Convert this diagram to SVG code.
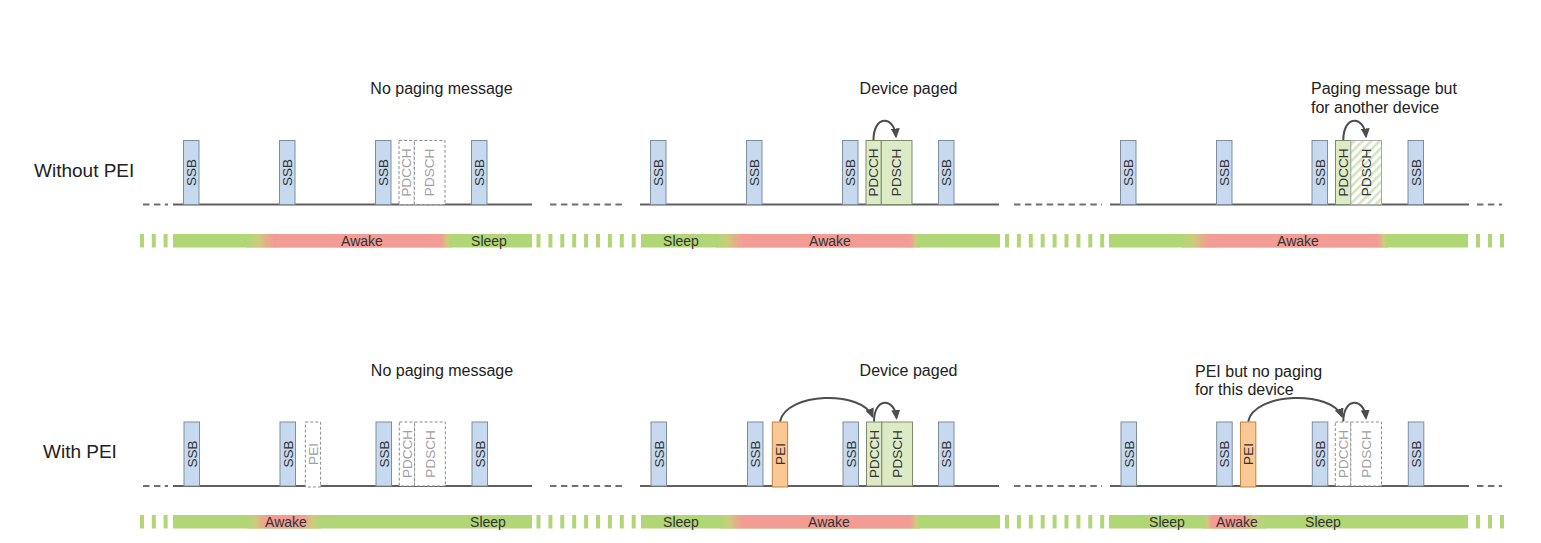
<svg xmlns="http://www.w3.org/2000/svg" width="1541" height="543" viewBox="0 0 1541 543">
<style>
text{font-family:"Liberation Sans",Arial,sans-serif}
.bg{fill:#fff}
.rowlbl{font-size:19px;fill:#222}
.title{font-size:16px;fill:#222}
.barlbl{font-size:14px;fill:#333;text-anchor:middle}
.base{stroke:#5f5f5f;stroke-width:2;fill:none}
.dash{stroke:#707070;stroke-width:2;fill:none;stroke-dasharray:6.5 4.4}
.ssb{fill:#c6d9ef;stroke:#7f8c9b;stroke-width:1}
.grn{fill:#dcebc6;stroke:#7c8c6a;stroke-width:1}
.pei{fill:#f9c895;stroke:#c4843e;stroke-width:1}
.dsh{fill:#fff;stroke:#8c8c8c;stroke-width:1;stroke-dasharray:3 2}
.hat{fill:url(#hatch);stroke:#a8a8a8;stroke-width:1}
.lbl{font-size:13.5px;fill:#333;text-anchor:middle}
.lblg{font-size:13.5px;fill:#a0a0a0;text-anchor:middle}
.g{fill:#b0d676}
.r{fill:#f29c95}
.g2r{fill:url(#g2r)}
.r2g{fill:url(#r2g)}
.arr{stroke:#4d4d4d;stroke-width:2;fill:none;marker-end:url(#ah)}
</style>
<defs>
<linearGradient id="g2r" x1="0" y1="0" x2="1" y2="0">
<stop offset="0" stop-color="#b0d676"/>
<stop offset="0.4" stop-color="#cacd7d"/>
<stop offset="0.7" stop-color="#e6ae88"/>
<stop offset="1" stop-color="#f29c95"/>
</linearGradient>
<linearGradient id="r2g" x1="0" y1="0" x2="1" y2="0">
<stop offset="0" stop-color="#f29c95"/>
<stop offset="0.3" stop-color="#e6ae88"/>
<stop offset="0.6" stop-color="#cacd7d"/>
<stop offset="1" stop-color="#b0d676"/>
</linearGradient>
<pattern id="hatch" patternUnits="userSpaceOnUse" width="6" height="6" patternTransform="rotate(45)">
<rect width="6" height="6" fill="#fff"/>
<rect width="2.6" height="6" fill="#d3e5bb"/>
</pattern>
<marker id="ah" markerUnits="userSpaceOnUse" markerWidth="10" markerHeight="9" viewBox="0 0 10 9" refX="8" refY="4.5" orient="auto">
<path d="M0,0 L10,4.5 L0,9 z" fill="#4d4d4d"/>
</marker>
</defs>
<rect class="bg" width="1541" height="543"/>

<g id="row-labels">
<text class="rowlbl" x="34" y="177">Without PEI</text>
<text class="rowlbl" x="43" y="458">With PEI</text>
</g>

<g id="titles">
<text class="title" x="441.5" y="94" text-anchor="middle">No paging message</text>
<text class="title" x="908.5" y="94" text-anchor="middle">Device paged</text>
<text class="title" x="1311" y="93.5">Paging message but</text>
<text class="title" x="1311" y="113">for another device</text>
<text class="title" x="442" y="376" text-anchor="middle">No paging message</text>
<text class="title" x="908.5" y="376" text-anchor="middle">Device paged</text>
<text class="title" x="1195" y="376.5">PEI but no paging</text>
<text class="title" x="1195" y="395">for this device</text>
</g>

<g id="timelines">
<path class="base" d="M173,204.5H532M640,204.5H999M1110,204.5H1469"/>
<path class="dash" d="M143,204.5H168M550,204.5H622M1014,204.5H1102M1477,204.5H1502"/>
<path class="base" d="M173,486H532M640,486H999M1110,486H1469"/>
<path class="dash" d="M143,486H168M550,486H622M1014,486H1102M1477,486H1502"/>
</g>

<g id="bars-top">
<rect class="g" x="173" y="234" width="359" height="13.5"/>
<rect class="g2r" x="247" y="234" width="28" height="13.5"/>
<rect class="r" x="274.5" y="234" width="166" height="13.5"/>
<rect class="r2g" x="440" y="234" width="12" height="13.5"/>
<rect class="g" x="641" y="234" width="359" height="13.5"/>
<rect class="g2r" x="716" y="234" width="28" height="13.5"/>
<rect class="r" x="743.5" y="234" width="167" height="13.5"/>
<rect class="r2g" x="910" y="234" width="10" height="13.5"/>
<rect class="g" x="1109" y="234" width="359" height="13.5"/>
<rect class="g2r" x="1182" y="234" width="28" height="13.5"/>
<rect class="r" x="1209.5" y="234" width="168" height="13.5"/>
<rect class="r2g" x="1377" y="234" width="11" height="13.5"/>
<text class="barlbl" x="362" y="245.5">Awake</text>
<text class="barlbl" x="489" y="245.5">Sleep</text>
<text class="barlbl" x="681" y="245.5">Sleep</text>
<text class="barlbl" x="830" y="245.5">Awake</text>
<text class="barlbl" x="1298" y="245.5">Awake</text>
</g>

<g id="bars-bottom">
<rect class="g" x="173" y="515" width="359" height="13.5"/>
<rect class="g2r" x="247" y="515" width="21" height="13.5"/>
<rect class="r" x="267.5" y="515" width="33" height="13.5"/>
<rect class="r2g" x="300" y="515" width="21" height="13.5"/>
<rect class="g" x="641" y="515" width="359" height="13.5"/>
<rect class="g2r" x="720" y="515" width="23" height="13.5"/>
<rect class="r" x="742.5" y="515" width="168" height="13.5"/>
<rect class="r2g" x="910" y="515" width="10" height="13.5"/>
<rect class="g" x="1109" y="515" width="359" height="13.5"/>
<rect class="g2r" x="1203" y="515" width="10" height="13.5"/>
<rect class="r" x="1212.5" y="515" width="28" height="13.5"/>
<rect class="r2g" x="1240" y="515" width="26" height="13.5"/>
<text class="barlbl" x="286" y="526.5">Awake</text>
<text class="barlbl" x="488" y="526.5">Sleep</text>
<text class="barlbl" x="681" y="526.5">Sleep</text>
<text class="barlbl" x="829" y="526.5">Awake</text>
<text class="barlbl" x="1167" y="526.5">Sleep</text>
<text class="barlbl" x="1237" y="526.5">Awake</text>
<text class="barlbl" x="1323" y="526.5">Sleep</text>
</g>

<g id="bar-stripes" fill="#b0d676">
<path d="M140,234h4v13.5h-4zM151.8,234h4v13.5h-4zM163.6,234h4v13.5h-4z
M536.5,234h4v13.5h-4zM548.4,234h4v13.5h-4zM560.3,234h4v13.5h-4zM572.2,234h4v13.5h-4zM584.1,234h4v13.5h-4zM596,234h4v13.5h-4zM607.9,234h4v13.5h-4zM619.8,234h4v13.5h-4zM631.7,234h4v13.5h-4z
M1005,234h4v13.5h-4zM1016.9,234h4v13.5h-4zM1028.8,234h4v13.5h-4zM1040.7,234h4v13.5h-4zM1052.6,234h4v13.5h-4zM1064.5,234h4v13.5h-4zM1076.4,234h4v13.5h-4zM1088.3,234h4v13.5h-4zM1100.2,234h4v13.5h-4z
M1476,234h4v13.5h-4zM1488,234h4v13.5h-4zM1500,234h4v13.5h-4z"/>
<path d="M140,515h4v13.5h-4zM151.8,515h4v13.5h-4zM163.6,515h4v13.5h-4z
M536.5,515h4v13.5h-4zM548.4,515h4v13.5h-4zM560.3,515h4v13.5h-4zM572.2,515h4v13.5h-4zM584.1,515h4v13.5h-4zM596,515h4v13.5h-4zM607.9,515h4v13.5h-4zM619.8,515h4v13.5h-4zM631.7,515h4v13.5h-4z
M1005,515h4v13.5h-4zM1016.9,515h4v13.5h-4zM1028.8,515h4v13.5h-4zM1040.7,515h4v13.5h-4zM1052.6,515h4v13.5h-4zM1064.5,515h4v13.5h-4zM1076.4,515h4v13.5h-4zM1088.3,515h4v13.5h-4zM1100.2,515h4v13.5h-4z
M1476,515h4v13.5h-4zM1488,515h4v13.5h-4zM1500,515h4v13.5h-4z"/>
</g>

<!-- Top row, panel 1 -->
<g id="t1-ssb1"><rect class="ssb" x="183.5" y="140.5" width="15.5" height="64"/><text class="lbl" transform="translate(191.25,172.5) rotate(-90)" dy="4.8">SSB</text></g>
<g id="t1-ssb2"><rect class="ssb" x="279.5" y="140.5" width="15.5" height="64"/><text class="lbl" transform="translate(287.25,172.5) rotate(-90)" dy="4.8">SSB</text></g>
<g id="t1-ssb3"><rect class="ssb" x="375.5" y="140.5" width="15.5" height="64"/><text class="lbl" transform="translate(383.25,172.5) rotate(-90)" dy="4.8">SSB</text></g>
<g id="t1-pdcch"><rect class="dsh" x="399" y="140.5" width="15.3" height="64"/><text class="lblg" transform="translate(406.65,172.5) rotate(-90)" dy="4.8">PDCCH</text></g>
<g id="t1-pdsch"><rect class="dsh" x="414.3" y="140.5" width="30.7" height="64"/><text class="lblg" transform="translate(429.65,172.5) rotate(-90)" dy="4.8">PDSCH</text></g>
<g id="t1-ssb4"><rect class="ssb" x="471.5" y="140.5" width="15.5" height="64"/><text class="lbl" transform="translate(479.25,172.5) rotate(-90)" dy="4.8">SSB</text></g>

<!-- Top row, panel 2 -->
<g id="t2-ssb1"><rect class="ssb" x="650.5" y="140.5" width="15.5" height="64"/><text class="lbl" transform="translate(658.25,172.5) rotate(-90)" dy="4.8">SSB</text></g>
<g id="t2-ssb2"><rect class="ssb" x="746.5" y="140.5" width="15.5" height="64"/><text class="lbl" transform="translate(754.25,172.5) rotate(-90)" dy="4.8">SSB</text></g>
<g id="t2-ssb3"><rect class="ssb" x="842.5" y="140.5" width="15.5" height="64"/><text class="lbl" transform="translate(850.25,172.5) rotate(-90)" dy="4.8">SSB</text></g>
<g id="t2-pdcch"><rect class="grn" x="866" y="140.5" width="15.3" height="64"/><text class="lbl" transform="translate(873.65,172.5) rotate(-90)" dy="4.8">PDCCH</text></g>
<g id="t2-pdsch"><rect class="grn" x="881.3" y="140.5" width="30.7" height="64"/><text class="lbl" transform="translate(896.65,172.5) rotate(-90)" dy="4.8">PDSCH</text></g>
<g id="t2-ssb4"><rect class="ssb" x="938.5" y="140.5" width="15.5" height="64"/><text class="lbl" transform="translate(946.25,172.5) rotate(-90)" dy="4.8">SSB</text></g>

<!-- Top row, panel 3 -->
<g id="t3-ssb1"><rect class="ssb" x="1120.5" y="140.5" width="15.5" height="64"/><text class="lbl" transform="translate(1128.25,172.5) rotate(-90)" dy="4.8">SSB</text></g>
<g id="t3-ssb2"><rect class="ssb" x="1216.5" y="140.5" width="15.5" height="64"/><text class="lbl" transform="translate(1224.25,172.5) rotate(-90)" dy="4.8">SSB</text></g>
<g id="t3-ssb3"><rect class="ssb" x="1312" y="140.5" width="15.5" height="64"/><text class="lbl" transform="translate(1319.75,172.5) rotate(-90)" dy="4.8">SSB</text></g>
<g id="t3-pdcch"><rect class="grn" x="1335.5" y="140.5" width="15.3" height="64"/><text class="lbl" transform="translate(1343.15,172.5) rotate(-90)" dy="4.8">PDCCH</text></g>
<g id="t3-pdsch"><rect class="hat" x="1350.8" y="140.5" width="30.7" height="64"/><text class="lbl" transform="translate(1366.15,172.5) rotate(-90)" dy="4.8">PDSCH</text></g>
<g id="t3-ssb4"><rect class="ssb" x="1408" y="140.5" width="15.5" height="64"/><text class="lbl" transform="translate(1415.75,172.5) rotate(-90)" dy="4.8">SSB</text></g>

<!-- Bottom row, panel 1 -->
<g id="b1-ssb1"><rect class="ssb" x="184" y="422" width="15.5" height="64"/><text class="lbl" transform="translate(191.75,454) rotate(-90)" dy="4.8">SSB</text></g>
<g id="b1-ssb2"><rect class="ssb" x="280" y="422" width="15.5" height="64"/><text class="lbl" transform="translate(287.75,454) rotate(-90)" dy="4.8">SSB</text></g>
<g id="b1-pei"><rect class="dsh" x="305.3" y="422" width="15.3" height="65"/><text class="lblg" transform="translate(312.95,454) rotate(-90)" dy="4.8">PEI</text></g>
<g id="b1-ssb3"><rect class="ssb" x="376" y="422" width="15.5" height="64"/><text class="lbl" transform="translate(383.75,454) rotate(-90)" dy="4.8">SSB</text></g>
<g id="b1-pdcch"><rect class="dsh" x="399.3" y="422" width="15.3" height="64"/><text class="lblg" transform="translate(406.95,454) rotate(-90)" dy="4.8">PDCCH</text></g>
<g id="b1-pdsch"><rect class="dsh" x="414.6" y="422" width="30.7" height="64"/><text class="lblg" transform="translate(429.95,454) rotate(-90)" dy="4.8">PDSCH</text></g>
<g id="b1-ssb4"><rect class="ssb" x="472" y="422" width="15.5" height="64"/><text class="lbl" transform="translate(479.75,454) rotate(-90)" dy="4.8">SSB</text></g>

<!-- Bottom row, panel 2 -->
<g id="b2-ssb1"><rect class="ssb" x="651" y="422" width="15.5" height="64"/><text class="lbl" transform="translate(658.75,454) rotate(-90)" dy="4.8">SSB</text></g>
<g id="b2-ssb2"><rect class="ssb" x="747.5" y="422" width="15.5" height="64"/><text class="lbl" transform="translate(755.25,454) rotate(-90)" dy="4.8">SSB</text></g>
<g id="b2-pei"><rect class="pei" x="772.3" y="422" width="15.3" height="65"/><text class="lbl" transform="translate(779.95,454) rotate(-90)" dy="4.8">PEI</text></g>
<g id="b2-ssb3"><rect class="ssb" x="843" y="422" width="15.5" height="64"/><text class="lbl" transform="translate(850.75,454) rotate(-90)" dy="4.8">SSB</text></g>
<g id="b2-pdcch"><rect class="grn" x="866.5" y="422" width="15.3" height="64"/><text class="lbl" transform="translate(874.15,454) rotate(-90)" dy="4.8">PDCCH</text></g>
<g id="b2-pdsch"><rect class="grn" x="881.8" y="422" width="30.7" height="64"/><text class="lbl" transform="translate(897.15,454) rotate(-90)" dy="4.8">PDSCH</text></g>
<g id="b2-ssb4"><rect class="ssb" x="938.5" y="422" width="15.5" height="64"/><text class="lbl" transform="translate(946.25,454) rotate(-90)" dy="4.8">SSB</text></g>

<!-- Bottom row, panel 3 -->
<g id="b3-ssb1"><rect class="ssb" x="1121" y="422" width="15.5" height="64"/><text class="lbl" transform="translate(1128.75,454) rotate(-90)" dy="4.8">SSB</text></g>
<g id="b3-ssb2"><rect class="ssb" x="1216.7" y="422" width="15.5" height="64"/><text class="lbl" transform="translate(1224.45,454) rotate(-90)" dy="4.8">SSB</text></g>
<g id="b3-pei"><rect class="pei" x="1240.5" y="422" width="15.3" height="65"/><text class="lbl" transform="translate(1248.15,454) rotate(-90)" dy="4.8">PEI</text></g>
<g id="b3-ssb3"><rect class="ssb" x="1312.3" y="422" width="15.5" height="64"/><text class="lbl" transform="translate(1320.05,454) rotate(-90)" dy="4.8">SSB</text></g>
<g id="b3-pdcch"><rect class="dsh" x="1335.3" y="422" width="15.5" height="64"/><text class="lblg" transform="translate(1343.05,454) rotate(-90)" dy="4.8">PDCCH</text></g>
<g id="b3-pdsch"><rect class="dsh" x="1350.8" y="422" width="30.7" height="64"/><text class="lblg" transform="translate(1366.15,454) rotate(-90)" dy="4.8">PDSCH</text></g>
<g id="b3-ssb4"><rect class="ssb" x="1408.3" y="422" width="15.5" height="64"/><text class="lbl" transform="translate(1416.05,454) rotate(-90)" dy="4.8">SSB</text></g>

<g id="connectors">
<path class="arr" d="M873.5,140 C873.5,115 894,115 896,136.5"/>
<path class="arr" d="M1343.3,140 C1343.3,115 1364,115 1366,136.5"/>
<path class="arr" d="M780,421.5 C786,392 862,390 872.5,416.5"/>
<path class="arr" d="M874,421.5 C874,397 894.5,397 896.5,418"/>
<path class="arr" d="M1248.2,421.5 C1254,392 1332,390 1342,416.5"/>
<path class="arr" d="M1343.3,421.5 C1343.3,397 1364,397 1366,418"/>
</g>
</svg>
